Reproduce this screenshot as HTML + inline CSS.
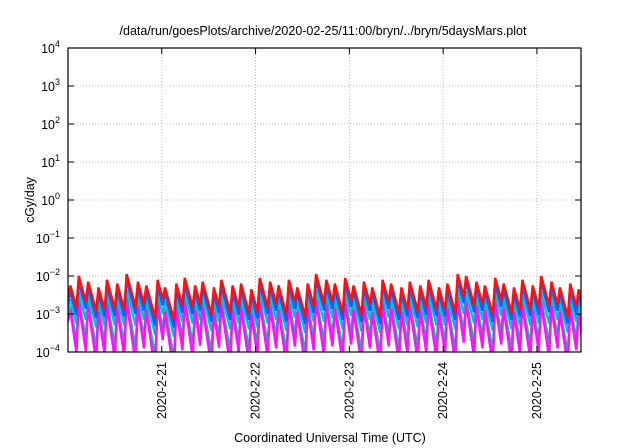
<!DOCTYPE html>
<html><head><meta charset="utf-8"><style>
body{margin:0;background:#fff}
svg{display:block;font-family:"Liberation Sans",Arial,sans-serif}
</style></head><body>
<svg id="c" width="640" height="448" viewBox="0 0 640 448">
<text x="323" y="35" font-size="12.5" text-anchor="middle">/data/run/goesPlots/archive/2020-02-25/11:00/bryn/../bryn/5daysMars.plot</text>
<text transform="translate(34,200) rotate(-90)" font-size="12.5" text-anchor="middle">cGy/day</text>
<text x="330" y="442" font-size="12.5" text-anchor="middle">Coordinated Universal Time (UTC)</text>
<g id="grid"></g><g id="series"></g><g id="axes"></g>
</svg>
<script>
const yExps=[-4,-3,-2,-1,0,1,2,3,4];
const xTickDays=[1,2,3,4,5];
const xTickLabels=["2020-2-21","2020-2-22","2020-2-23","2020-2-24","2020-2-25"];
const peakTimes=[0,0.09,0.19,0.30,0.39,0.50,0.60,0.72,0.81,0.93,1.01,1.13,1.22,1.33,1.41,1.53,1.61,1.73,1.82,1.93,2.02,2.13,2.22,2.33,2.42,2.53,2.62,2.73,2.82,2.93,3.02,3.13,3.22,3.33,3.42,3.53,3.62,3.73,3.82,3.93,4.02,4.13,4.22,4.33,4.42,4.53,4.62,4.73,4.82,4.93,5.02,5.13,5.22,5.33,5.42];
const redPeaks=[-2.25,-2.0,-2.15,-2.3,-2.1,-2.2,-1.95,-2.15,-2.25,-2.1,-2.3,-2.2,-2.05,-2.25,-2.15,-2.3,-2.1,-2.25,-2.2,-2.35,-2.05,-2.15,-2.25,-2.1,-2.3,-2.2,-1.95,-2.1,-2.2,-2.05,-2.25,-2.15,-2.3,-2.1,-2.2,-2.3,-2.15,-2.25,-2.1,-2.3,-2.2,-1.95,-2.0,-2.15,-2.25,-2.05,-2.2,-2.3,-2.1,-2.25,-2.0,-2.15,-2.3,-2.2,-2.35];
const bluePeaks=[-2.4,-2.15,-2.3,-2.45,-2.25,-2.35,-2.1,-2.3,-2.4,-2.25,-2.45,-2.35,-2.2,-2.4,-2.3,-2.45,-2.25,-2.4,-2.35,-2.5,-2.2,-2.3,-2.4,-2.25,-2.45,-2.35,-2.1,-2.25,-2.35,-2.2,-2.4,-2.3,-2.45,-2.25,-2.35,-2.45,-2.3,-2.4,-2.25,-2.45,-2.35,-2.1,-2.15,-2.3,-2.4,-2.2,-2.35,-2.45,-2.25,-2.4,-2.15,-2.3,-2.45,-2.35,-2.5];
const cyanPeaks=[-2.6,-2.4,-2.5,-2.65,-2.45,-2.55,-2.35,-2.5,-2.6,-2.45,-2.65,-2.55,-2.4,-2.6,-2.5,-2.65,-2.45,-2.6,-2.55,-2.7,-2.4,-2.5,-2.6,-2.45,-2.65,-2.55,-2.35,-2.45,-2.55,-2.4,-2.6,-2.5,-2.65,-2.45,-2.55,-2.65,-2.5,-2.6,-2.45,-2.65,-2.55,-2.35,-2.4,-2.5,-2.6,-2.4,-2.55,-2.65,-2.45,-2.6,-2.4,-2.5,-2.65,-2.55,-2.7];
const greenPeaks=[-2.8,-2.6,-2.7,-2.85,-2.65,-2.75,-2.55,-2.7,-2.8,-2.65,-2.85,-2.75,-2.6,-2.8,-2.7,-2.85,-2.65,-2.8,-2.75,-2.9,-2.6,-2.7,-2.8,-2.65,-2.85,-2.75,-2.55,-2.65,-2.75,-2.6,-2.8,-2.7,-2.85,-2.65,-2.75,-2.85,-2.7,-2.8,-2.65,-2.85,-2.75,-2.55,-2.6,-2.7,-2.8,-2.6,-2.75,-2.85,-2.65,-2.8,-2.6,-2.7,-2.85,-2.75,-2.9];
const magentaPeaks=[-2.9,-2.7,-2.8,-2.95,-2.75,-2.85,-2.65,-2.8,-2.9,-2.75,-2.95,-2.85,-2.7,-2.9,-2.8,-2.95,-2.75,-2.9,-2.85,-3.0,-2.7,-2.8,-2.9,-2.75,-2.95,-2.85,-2.65,-2.75,-2.85,-2.7,-2.9,-2.8,-2.95,-2.75,-2.85,-2.95,-2.8,-2.9,-2.75,-2.95,-2.85,-2.65,-2.7,-2.8,-2.9,-2.7,-2.85,-2.95,-2.75,-2.9,-2.7,-2.8,-2.95,-2.85,-3.0];
const seriesNames=["cyan","green","magenta","blue","red"];
const seriesColors=["#12b4f0","#10c090","#ff10ff","#1a5cf0","#ff1010"];
const seriesPeaks=[cyanPeaks,greenPeaks,magentaPeaks,bluePeaks,redPeaks];
const seriesDecay=[10,14,17,9.5,9];
const X0=68,X1=581,Y0=48,Y1=352,D0=0,D1=5.47,E0=-4,E1=4;
const NS="http://www.w3.org/2000/svg";
function sx(d){return X0+(d-D0)/(D1-D0)*(X1-X0);}
function sy(e){return Y1-(e-E0)/(E1-E0)*(Y1-Y0);}
function mk(t,a,p){const el=document.createElementNS(NS,t);for(const k in a)el.setAttribute(k,a[k]);p.appendChild(el);return el;}
const grid=document.getElementById('grid'),ser=document.getElementById('series'),axes=document.getElementById('axes'),svg=document.getElementById('c');
const defs=mk('defs',{},svg);const cp=mk('clipPath',{id:'clip'},defs);mk('rect',{x:X0,y:Y0,width:X1-X0,height:Y1-Y0},cp);
yExps.forEach(e=>{const y=sy(e);
 if(e>E0&&e<E1){const g=mk('line',{x1:X0,x2:X1,y1:y,y2:y,stroke:'#aaa','stroke-width':0.8,'stroke-dasharray':'1,2'},grid);}
 const tk=mk('path',{d:`M${X0} ${y}h6M${X1} ${y}h-6`,stroke:'#000'},axes);
 const t=mk('text',{x:X0-8,y:y+5,'font-size':12.5,'text-anchor':'end'},axes);
 t.textContent='10';const s=mk('tspan',{dy:-6,'font-size':9},t);s.textContent=String(e).replace('-','\u2212');
});
xTickDays.forEach((d,i)=>{const x=sx(d);
 const g=mk('line',{x1:x,x2:x,y1:Y0,y2:Y1,stroke:'#aaa','stroke-width':0.8,'stroke-dasharray':'1,2'},grid);
 const tk=mk('path',{d:`M${x} ${Y1}v-6M${x} ${Y0}v6`,stroke:'#000'},axes);
 const t=mk('text',{transform:`translate(${x+4},${Y1+10}) rotate(-90)`,'font-size':12.5,'text-anchor':'end'},axes);t.textContent=xTickLabels[i];
});
seriesPeaks.forEach((pk,si)=>{let pts=[];
 for(let i=0;i<peakTimes.length;i++){const t=peakTimes[i];const tn=i+1<peakTimes.length?peakTimes[i+1]:D1+0.1;
  const top=t+0.025;pts.push([sx(top),sy(pk[i])]);
  const tr=pk[i]-seriesDecay[si]*(tn-top);pts.push([sx(tn),sy(tr)]);}
 const first=[sx(peakTimes[0]),sy(pk[0]-0.3)];
 const p=mk('polyline',{points:[first,...pts].map(a=>a.join(',')).join(' '),fill:'none',stroke:seriesColors[si],'stroke-width':2.4,'stroke-linejoin':'miter','clip-path':'url(#clip)'},ser);
 
});
const fr=mk('rect',{x:X0,y:Y0,width:X1-X0,height:Y1-Y0,fill:'none',stroke:'#000','stroke-width':1.2},axes);
</script>
</body></html>
